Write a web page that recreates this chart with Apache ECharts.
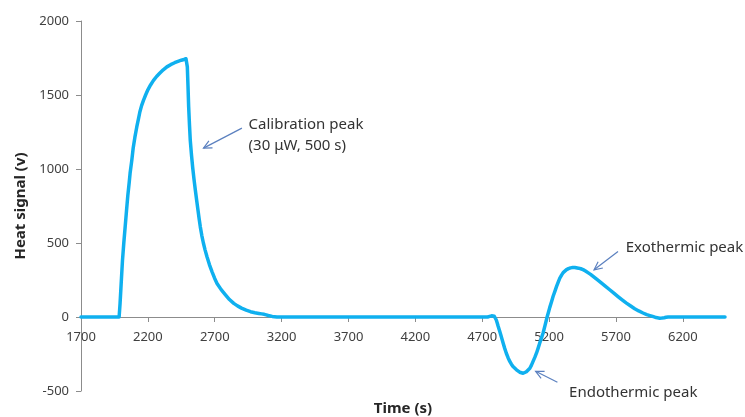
<!DOCTYPE html>
<html>
<head>
<meta charset="utf-8">
<script src="https://cdn.jsdelivr.net/npm/echarts@6/dist/echarts.min.js"></script>
<style>
  html, body { margin: 0; padding: 0; background: #ffffff; }
  #chart { width: 745px; height: 417px; }
</style>
</head>
<body>
<div id="chart"></div>
<script>
// Heat-flow trace: time (s) and signal values
const timeValues = [
  1700, 1985, 1992, 2000, 2010, 2020, 2030, 2040, 2050, 2060, 2067, 2080, 2090, 2103, 2117,
  2130, 2140, 2153, 2167, 2183, 2200, 2220, 2242, 2265, 2290, 2315, 2342, 2370, 2400, 2425,
  2450, 2470, 2485, 2490, 2495, 2500, 2505, 2511, 2517, 2526, 2535, 2545, 2555, 2565, 2575,
  2583, 2592, 2603, 2615, 2628, 2642, 2660, 2680, 2698, 2717, 2748, 2780, 2810, 2842, 2870,
  2900, 2935, 2967, 3000, 3030, 3050, 3070, 3085, 3100, 3130, 3165,
  4740, 4755, 4770, 4780, 4790, 4798, 4805, 4812, 4819, 4830, 4840, 4848, 4856, 4868, 4880,
  4893, 4906, 4918, 4930, 4943, 4956, 4968, 4980, 4993, 5006, 5018, 5030, 5043, 5056, 5068,
  5080, 5093, 5106, 5118, 5130, 5143, 5155, 5170, 5185, 5195, 5205, 5218, 5230, 5243, 5255,
  5268, 5280, 5293, 5305, 5318, 5330, 5345, 5360, 5376, 5392, 5406, 5420, 5437, 5454, 5472,
  5490, 5510, 5529, 5560, 5590, 5622, 5653, 5684, 5715, 5746, 5778, 5810, 5840, 5870, 5902,
  5930, 5960, 5980, 6000, 6013, 6027, 6043, 6060, 6075, 6090, 6515
];
const signalValues = [
  0, 0, 90, 220, 380, 500, 607, 715, 820, 905, 971, 1060, 1140, 1215, 1284,
  1340, 1385, 1428, 1464, 1500, 1535, 1568, 1599, 1625, 1648, 1670, 1690, 1705, 1718, 1727,
  1735, 1740, 1745, 1735, 1690, 1560, 1420, 1300, 1194, 1095, 1010, 930, 857, 787, 720,
  665, 609, 552, 500, 452, 407, 354, 305, 264, 227, 185, 150, 118, 92, 75,
  60, 46, 36, 29, 24, 21, 18, 14, 10, 4, 0,
  0, 4, 8, 9, 5, -5, -20, -40, -63, -95, -125, -150, -176, -212, -245,
  -275, -300, -319, -335, -347, -357, -366, -373, -378, -380, -378, -370, -360, -346, -325,
  -300, -273, -243, -210, -175, -141, -108, -55, 0, 32, 65, 103, 140, 173, 205,
  236, 263, 283, 300, 312, 320, 327, 332, 334, 335, 334, 330, 326, 320, 311,
  300, 288, 274, 252, 230, 207, 184, 161, 138, 116, 94, 74, 56, 41, 27,
  16, 8, 2, -4, -7, -8, -7, -5, -2, 0, 0
];

// Axis ticks
const xTickLabels = [1700, 2200, 2700, 3200, 3700, 4200, 4700, 5200, 5700, 6200];
const yTickLabels = [-500, 0, 500, 1000, 1500, 2000];

// Annotations: text lines, text anchor, arrow tail and arrow tip (data units)
const noteTexts = [
  ['Calibration peak', '(30 \u03bcW, 500 s)'],
  ['Exothermic peak'],
  ['Endothermic peak']
];
const noteTextAt = [[2953, 1298], [5773, 468], [5349, -513]];
const noteArrowTail = [[2903, 1276], [5715, 443], [5262, -441]];
const noteArrowTip = [[2616, 1141], [5536, 319], [5099, -367]];

const seriesData = timeValues.map((t, i) => [t, signalValues[i]]);

const fontFamily = '"Noto Sans", "Open Sans", sans-serif';
const plainNumber = (v) => String(v);
const axisGray = '#8c8c8c';
const chart = echarts.init(document.getElementById('chart'), null, { renderer: 'canvas' });

chart.setOption({
  animation: false,
  backgroundColor: '#ffffff',
  grid: { left: 81, right: 20, top: 21, bottom: 26, containLabel: false, outerBoundsMode: 'none' },
  xAxis: [{
    // time axis drawn along the zero line
    type: 'value',
    position: 'bottom',
    min: 1700,
    max: 6515,
    interval: 500,
    offset: 0,
    axisLine: { onZero: false, lineStyle: { color: axisGray, width: 1 } },
    axisTick: { show: true, length: 5, lineStyle: { color: axisGray },
      customValues: xTickLabels },
    axisLabel: { fontFamily, fontSize: 13, color: '#404040', margin: 14,
      customValues: xTickLabels, formatter: plainNumber },
    splitLine: { show: false }
  }, {
    // carries the axis title under the plot
    type: 'value',
    position: 'bottom',
    min: 1700,
    max: 6515,
    name: 'Time (s)',
    nameLocation: 'middle',
    nameGap: 10,
    nameTextStyle: { fontFamily, fontSize: 15, fontWeight: 'bold', color: '#262626',
      verticalAlign: 'top' },
    axisLine: { show: false, onZero: false },
    axisTick: { show: false },
    axisLabel: { show: false },
    splitLine: { show: false }
  }],
  yAxis: {
    type: 'value',
    min: -500,
    max: 2000,
    interval: 500,
    name: 'Heat signal (v)',
    nameLocation: 'middle',
    nameGap: 52,
    nameTextStyle: { fontFamily, fontSize: 15, fontWeight: 'bold', color: '#262626' },
    axisLine: { show: true, lineStyle: { color: axisGray, width: 1 } },
    axisTick: { show: true, length: 5, lineStyle: { color: axisGray } },
    axisLabel: { fontFamily, fontSize: 13, color: '#404040', margin: 12,
      customValues: yTickLabels, formatter: plainNumber },
    splitLine: { show: false }
  },
  series: [{
    type: 'line',
    xAxisIndex: 0,
    data: seriesData,
    showSymbol: false,
    smooth: false,
    lineStyle: { color: '#0fb0ef', width: 3.5, join: 'round', cap: 'round' },
    z: 3
  }]
});

// Lift the time axis so it crosses the signal axis at zero
const zeroY = chart.convertToPixel({ yAxisIndex: 0 }, 0);
const floorY = chart.convertToPixel({ yAxisIndex: 0 }, -500);
chart.setOption({ xAxis: [{ offset: -(floorY - zeroY) }, {}] });

// Callout arrows and labels, placed in data coordinates
function drawNotes() {
  const elements = [];
  const arrowColor = '#5b80bf';
  noteTexts.forEach((lines, i) => {
    const tail = chart.convertToPixel({ gridIndex: 0 }, noteArrowTail[i]);
    const tip = chart.convertToPixel({ gridIndex: 0 }, noteArrowTip[i]);
    const ang = Math.atan2(tail[1] - tip[1], tail[0] - tip[0]);
    const head = 9, spread = 0.45;
    elements.push({
      type: 'line',
      shape: { x1: tail[0], y1: tail[1], x2: tip[0], y2: tip[1] },
      style: { stroke: arrowColor, lineWidth: 1.2 },
      z: 10
    });
    elements.push({
      type: 'polyline',
      shape: { points: [
        [tip[0] + head * Math.cos(ang + spread), tip[1] + head * Math.sin(ang + spread)],
        [tip[0], tip[1]],
        [tip[0] + head * Math.cos(ang - spread), tip[1] + head * Math.sin(ang - spread)]
      ] },
      style: { stroke: arrowColor, lineWidth: 1.2, fill: null },
      z: 10
    });
    const at = chart.convertToPixel({ gridIndex: 0 }, noteTextAt[i]);
    elements.push({
      type: 'text',
      x: at[0],
      y: at[1] - 10.5,
      style: {
        text: lines.join('\n'),
        fontFamily,
        fontSize: 15,
        lineHeight: 21,
        fill: '#333333',
        textAlign: 'left',
        textVerticalAlign: 'top'
      },
      z: 10
    });
  });
  chart.setOption({ graphic: elements });
}
drawNotes();
</script>
</body>
</html>
